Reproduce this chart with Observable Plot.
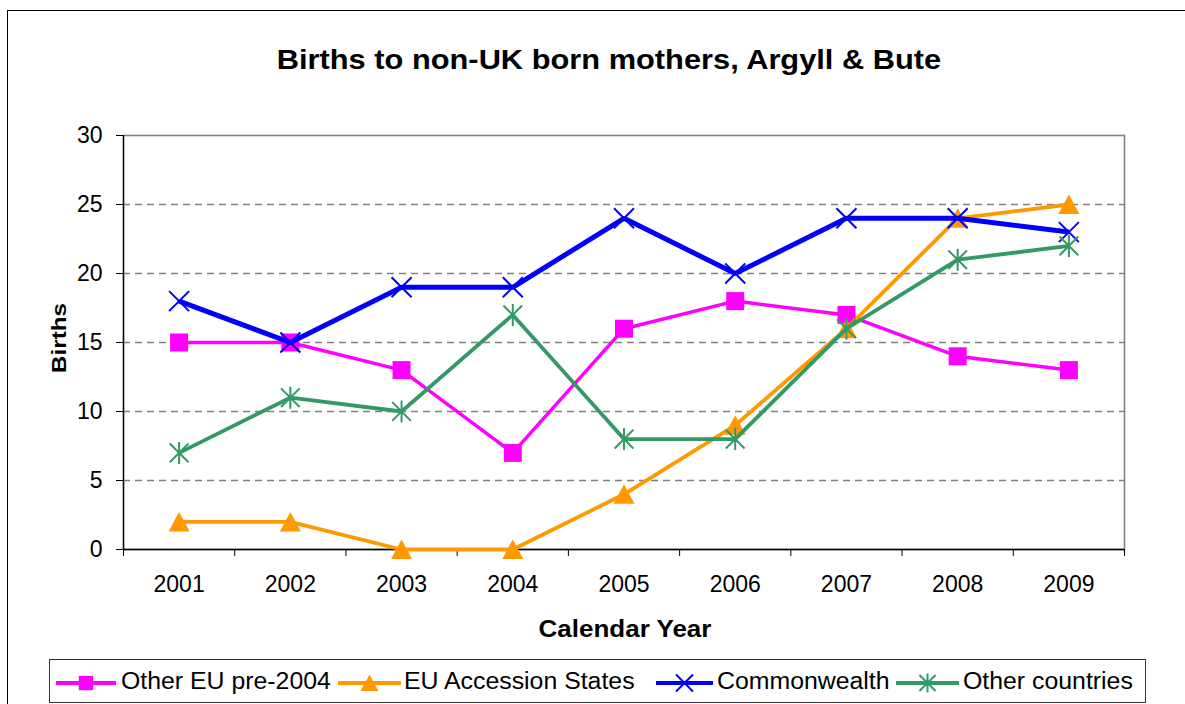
<!DOCTYPE html>
<html>
<head>
<meta charset="utf-8">
<script src="https://cdn.jsdelivr.net/npm/d3@7"></script>
<script src="https://cdn.jsdelivr.net/npm/@observablehq/plot@0.6"></script>
<style>
  html, body { margin: 0; padding: 0; background: white; }
  body { width: 1185px; height: 704px; position: relative; overflow: hidden; font-family: "Liberation Sans", Arial, sans-serif; color: black; }
  .abs { position: absolute; white-space: nowrap; line-height: 1; }
  #outer { position: absolute; left: 7px; top: 10px; width: 1300px; height: 800px; border: 1.5px solid black; box-sizing: border-box; }
  #legend { position: absolute; left: 49px; top: 659px; width: 1097px; height: 44px; border: 1.2px solid #333; box-sizing: border-box; }
  #chart { position: absolute; left: 0; top: 0; }
</style>
</head>
<body>
<div id="outer"></div>
<div id="chart"></div>
<div class="abs" id="title" style="left:609px; top:46px; font-size:28px; font-weight:bold; transform: translateX(-50%) scaleX(1.1);">Births to non-UK born mothers, Argyll &amp; Bute</div>
<div class="abs" id="xtitle" style="left:624.5px; top:618px; font-size:23px; font-weight:bold; transform: translateX(-50%) scaleX(1.13);">Calendar Year</div>
<div class="abs" id="ytitle" style="left:58px; top:338px; font-size:21px; font-weight:bold; transform: translate(-50%,-50%) rotate(-90deg) scaleX(1.15);">Births</div>
<div id="legend"></div>
<script>
// ---- data ----
const years = [2001, 2002, 2003, 2004, 2005, 2006, 2007, 2008, 2009];
const otherEUpre2004 = [15, 15, 13, 7, 16, 18, 17, 14, 13];
const euAccessionStates = [2, 2, 0, 0, 4, 9, 16, 24, 25];
const commonwealth = [18, 15, 19, 19, 24, 20, 24, 24, 23];
const otherCountries = [7, 11, 10, 17, 8, 8, 16, 21, 22];
const seriesNames = ["Other EU pre-2004", "EU Accession States", "Commonwealth", "Other countries"];
const yTicks = [0, 5, 10, 15, 20, 25, 30];
const titleText = "Births to non-UK born mothers, Argyll & Bute";

// ---- styles ----
const colors = ["#FF00FF", "#FF9900", "#0000FF", "#339966"];
const lineWidths = [3.5, 3.8, 5, 3.8];

const sqSym = {draw(ctx, size) { const r = Math.sqrt(size / Math.PI); ctx.rect(-r, -r, 2 * r, 2 * r); }};
const triSym = {draw(ctx, size) { const r = Math.sqrt(size / Math.PI); ctx.moveTo(0, -r); ctx.lineTo(r * 1.05, r * 0.95); ctx.lineTo(-r * 1.05, r * 0.95); ctx.closePath(); }};
const timesSym = {draw(ctx, size) { const r = Math.sqrt(size / Math.PI); ctx.moveTo(-r, -r); ctx.lineTo(r, r); ctx.moveTo(-r, r); ctx.lineTo(r, -r); }};
const asterSym = {draw(ctx, size) { const r = Math.sqrt(size / Math.PI); const d = r * 0.85; ctx.moveTo(0, -r); ctx.lineTo(0, r); ctx.moveTo(-d, -d); ctx.lineTo(d, d); ctx.moveTo(-d, d); ctx.lineTo(d, -d); }};
const symbols = [sqSym, triSym, timesSym, asterSym];
const symR = [9, 10, 10, 11];
const filled = [true, true, false, false];

const seriesValues = [otherEUpre2004, euAccessionStates, commonwealth, otherCountries];
const tables = seriesValues.map((vals, i) => years.map((y, j) => ({year: y, value: vals[j], series: seriesNames[i]})));

const boundaries = years.map(y => y - 0.5).concat([years[years.length - 1] + 0.5]);

const seriesMarks = [];
tables.forEach((t, i) => {
  seriesMarks.push(Plot.line(t, {x: "year", y: "value", stroke: colors[i], strokeWidth: lineWidths[i], strokeLinejoin: "miter", strokeLinecap: "butt"}));
  seriesMarks.push(Plot.dot(t, filled[i]
    ? {x: "year", y: "value", symbol: symbols[i], r: symR[i], fill: colors[i], stroke: "none"}
    : {x: "year", y: "value", symbol: symbols[i], r: symR[i], fill: "none", stroke: colors[i], strokeWidth: 2}));
});

const chart = Plot.plot({
  width: 1185,
  height: 650,
  marginLeft: 123,
  marginRight: 61,
  marginTop: 135,
  marginBottom: 101,
  style: {background: "transparent", fontFamily: "'Liberation Sans', Arial, sans-serif", fontSize: "23px", color: "black"},
  x: {type: "linear", domain: [boundaries[0], boundaries[boundaries.length - 1]]},
  y: {domain: [0, 30]},
  marks: [
    Plot.gridY(yTicks.filter(v => v > 0 && v < 30), {stroke: "#808080", strokeOpacity: 1, strokeWidth: 1.3, strokeDasharray: "7,5"}),
    Plot.frame({stroke: "#808080", strokeWidth: 1.6}),
    Plot.ruleX([boundaries[0]], {stroke: "black", strokeWidth: 1.3}),
    Plot.ruleY([0], {stroke: "black", strokeWidth: 1.3}),
    Plot.axisY({ticks: yTicks, tickSize: 7, tickPadding: 14, fontSize: 23, label: null, tickFormat: d => String(d)}),
    Plot.axisX({ticks: boundaries, tickSize: 7, tickFormat: () => "", label: null}),
    Plot.axisX({ticks: years, tickSize: 0, tickPadding: 26, fontSize: 23, label: null, tickFormat: d => String(d)}),
    ...seriesMarks
  ]
});
document.getElementById("chart").appendChild(chart);

// ---- legend ----
const legend = document.getElementById("legend");
const legLine = [[55, 115], [337, 400], [655, 712], [895, 958]];
const legText = [120, 403, 716, 962];
const legY = 682;
const svgNS = "http://www.w3.org/2000/svg";
seriesNames.forEach((name, i) => {
  const [x1, x2] = legLine[i];
  const svg = document.createElementNS(svgNS, "svg");
  svg.setAttribute("width", x2 - x1 + 4);
  svg.setAttribute("height", 30);
  svg.style.position = "absolute";
  svg.style.left = (x1 - 49 - 2) + "px";
  svg.style.top = (legY - 659 - 15) + "px";
  svg.style.overflow = "visible";
  const cx = (x2 - x1) / 2 + 2, cy = 15;
  const ln = document.createElementNS(svgNS, "line");
  ln.setAttribute("x1", 2); ln.setAttribute("x2", x2 - x1 + 2);
  ln.setAttribute("y1", cy); ln.setAttribute("y2", cy);
  ln.setAttribute("stroke", colors[i]); ln.setAttribute("stroke-width", 4);
  svg.appendChild(ln);
  const p = document.createElementNS(svgNS, "path");
  const path = d3.path();
  const r = [7.2, 8.5, 8.5, 9.5][i];
  symbols[i].draw(path, Math.PI * r * r);
  p.setAttribute("d", path.toString());
  p.setAttribute("transform", `translate(${cx},${cy})`);
  if (filled[i]) { p.setAttribute("fill", colors[i]); }
  else { p.setAttribute("fill", "none"); p.setAttribute("stroke", colors[i]); p.setAttribute("stroke-width", 2); }
  svg.appendChild(p);
  legend.appendChild(svg);
  const t = document.createElement("div");
  t.className = "abs";
  t.textContent = name;
  t.style.left = (legText[i] - 49) + "px";
  t.style.top = (669 - 659) + "px";
  t.style.fontSize = "23px";
  t.style.transformOrigin = "left center";
  t.style.transform = "scaleX(1.08)";
  legend.appendChild(t);
});
</script>
</body>
</html>
